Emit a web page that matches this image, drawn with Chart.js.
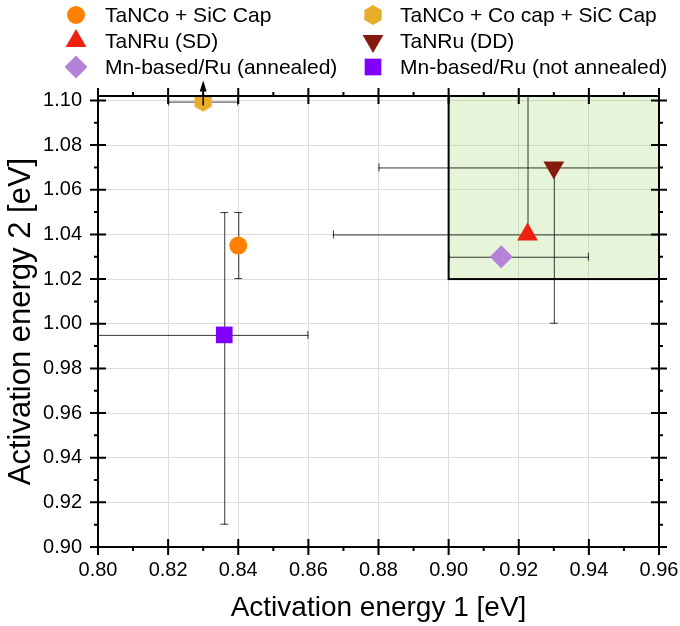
<!DOCTYPE html>
<html>
<head>
<meta charset="utf-8">
<script src="https://cdn.jsdelivr.net/npm/chart.js@4/dist/chart.umd.min.js"></script>
<style>
  html, body { margin: 0; padding: 0; background: #fff; }
  canvas { display: block; }
</style>
</head>
<body>
<canvas id="chart-ae" width="680" height="626"></canvas>
<script>
// data
var seriesLabels = [
  "TaNCo + SiC Cap",
  "TaNCo + Co cap + SiC Cap",
  "TaNRu (SD)",
  "TaNRu (DD)",
  "Mn-based/Ru (annealed)",
  "Mn-based/Ru (not annealed)",
];
var xValues = [0.84, 0.83, 0.9225, 0.93, 0.915, 0.836];
var yValues = [1.035, 1.0995, 1.04, 1.07, 1.03, 0.995];
var xErrMinus = [0, 0.01, 0.0555, 0.05, 0.015, 0.04];
var xErrPlus = [0, 0.01, 0.0555, 0.05, 0.025, 0.024];
var yErrMinus = [0.015, 0, 0, 0.07, 0, 0.085];
var yErrPlus = [0.015, 0, 0.07, 0, 0, 0.055];
var lowerLimit = [false, true, false, false, false, false];

var xTicks = [0.80, 0.82, 0.84, 0.86, 0.88, 0.90, 0.92, 0.94, 0.96];
var yTicks = [0.90, 0.92, 0.94, 0.96, 0.98, 1.00, 1.02, 1.04, 1.06, 1.08, 1.10];
var xRange = [0.80, 0.96];
var yRange = [0.90, 1.102];
var boxX = [0.90, 0.96];
var boxY = [1.02, 1.102];

// styles
var colors = ["#ff8000", "#e8ae2a", "#f0200f", "#851b0e", "#b482d6", "#8000ff"];
var FONT = "'Liberation Sans', Arial, sans-serif";

function hexagon(color, r) {
  var c = document.createElement("canvas");
  var s = Math.ceil(r * 2 + 2);
  c.width = s;
  c.height = s;
  var g = c.getContext("2d");
  g.fillStyle = color;
  g.beginPath();
  for (var i = 0; i < 6; i++) {
    var a = Math.PI / 2 + i * Math.PI / 3;
    var px = s / 2 + r * Math.cos(a);
    var py = s / 2 - r * Math.sin(a);
    if (i === 0) g.moveTo(px, py); else g.lineTo(px, py);
  }
  g.closePath();
  g.fill();
  return c;
}

var pointStyles = ["circle", hexagon(colors[1], 10), "triangle", "triangle", "rectRot", "rect"];
var pointRadius = [9, 10, 12, 12, 11.5, 11.8];
var pointRotation = [0, 0, 0, 180, 0, 0];

var datasets = seriesLabels.map(function (lab, i) {
  return {
    label: lab,
    data: [{ x: xValues[i], y: yValues[i] }],
    pointStyle: pointStyles[i],
    pointRadius: pointRadius[i],
    pointRotation: pointRotation[i],
    backgroundColor: colors[i],
    borderColor: colors[i],
    borderWidth: 0,
    clip: 0,
  };
});

// green box + error bars under the markers
var underlay = {
  id: "underlay",
  beforeDatasetsDraw: function (chart) {
    var ctx = chart.ctx, xs = chart.scales.x, ys = chart.scales.y, a = chart.chartArea;
    ctx.save();
    ctx.beginPath();
    ctx.rect(a.left, a.top, a.right - a.left, a.bottom - a.top);
    ctx.clip();

    var bx0 = xs.getPixelForValue(boxX[0]), bx1 = xs.getPixelForValue(boxX[1]);
    var by0 = ys.getPixelForValue(boxY[0]), by1 = ys.getPixelForValue(boxY[1]);
    ctx.fillStyle = "rgba(165, 215, 120, 0.28)";
    ctx.fillRect(bx0, by1, bx1 - bx0, by0 - by1);

    ctx.strokeStyle = "rgba(0,0,0,0.78)";
    ctx.lineWidth = 1;
    var cap = 4;
    for (var i = 0; i < xValues.length; i++) {
      var px = xs.getPixelForValue(xValues[i]);
      var py = ys.getPixelForValue(yValues[i]);
      ctx.beginPath();
      if (xErrMinus[i] || xErrPlus[i]) {
        var l = xs.getPixelForValue(xValues[i] - xErrMinus[i]);
        var r = xs.getPixelForValue(xValues[i] + xErrPlus[i]);
        ctx.moveTo(l, py + 0.5); ctx.lineTo(r, py + 0.5);
        ctx.moveTo(l + 0.5, py - cap); ctx.lineTo(l + 0.5, py + cap);
        ctx.moveTo(r - 0.5, py - cap); ctx.lineTo(r - 0.5, py + cap);
      }
      if (yErrMinus[i] || yErrPlus[i]) {
        var b = ys.getPixelForValue(yValues[i] - yErrMinus[i]);
        var t = ys.getPixelForValue(yValues[i] + yErrPlus[i]);
        ctx.moveTo(px + 0.5, b); ctx.lineTo(px + 0.5, t);
        if (yErrMinus[i]) { ctx.moveTo(px - cap, b - 0.5); ctx.lineTo(px + cap, b - 0.5); }
        if (yErrPlus[i]) { ctx.moveTo(px - cap, t + 0.5); ctx.lineTo(px + cap, t + 0.5); }
      }
      ctx.stroke();
    }

    ctx.strokeStyle = "#000";
    ctx.lineWidth = 2;
    ctx.strokeRect(bx0, by1, bx1 - bx0, by0 - by1);
    ctx.restore();
  },
};

// frame, ticks on four sides, limit arrow, legend
var overlay = {
  id: "overlay",
  afterDraw: function (chart) {
    var ctx = chart.ctx, xs = chart.scales.x, ys = chart.scales.y, a = chart.chartArea;
    ctx.save();
    ctx.strokeStyle = "#000";
    ctx.lineWidth = 2;
    ctx.strokeRect(a.left, a.top, a.right - a.left, a.bottom - a.top);

    var maj = 8, minr = 4;
    ctx.beginPath();
    xTicks.forEach(function (v, k) {
      var p = xs.getPixelForValue(v);
      ctx.moveTo(p, a.bottom - maj); ctx.lineTo(p, a.bottom + maj);
      ctx.moveTo(p, a.top - maj); ctx.lineTo(p, a.top + maj);
      if (k < xTicks.length - 1) {
        var m = xs.getPixelForValue((v + xTicks[k + 1]) / 2);
        ctx.moveTo(m, a.bottom); ctx.lineTo(m, a.bottom + minr);
        ctx.moveTo(m, a.top); ctx.lineTo(m, a.top - minr);
      }
    });
    yTicks.forEach(function (v, k) {
      var p = ys.getPixelForValue(v);
      ctx.moveTo(a.left - maj, p); ctx.lineTo(a.left + maj, p);
      ctx.moveTo(a.right - maj, p); ctx.lineTo(a.right + maj, p);
      if (k < yTicks.length - 1) {
        var m = ys.getPixelForValue((v + yTicks[k + 1]) / 2);
        ctx.moveTo(a.left, m); ctx.lineTo(a.left - minr, m);
        ctx.moveTo(a.right, m); ctx.lineTo(a.right + minr, m);
      }
    });
    ctx.stroke();

    // upward arrows for lower limits
    ctx.lineWidth = 1.5;
    ctx.fillStyle = "#000";
    for (var i = 0; i < xValues.length; i++) {
      if (!lowerLimit[i]) continue;
      var px = xs.getPixelForValue(xValues[i]);
      var py = ys.getPixelForValue(yValues[i]);
      ctx.beginPath();
      ctx.moveTo(px, py + 4); ctx.lineTo(px, py - 12);
      ctx.stroke();
      ctx.beginPath();
      ctx.moveTo(px, py - 21); ctx.lineTo(px - 3.5, py - 10); ctx.lineTo(px + 3.5, py - 10);
      ctx.closePath();
      ctx.fill();
    }

    // two-column legend
    ctx.font = "21px " + FONT;
    ctx.textBaseline = "middle";
    ctx.textAlign = "left";
    var colMark = [76, 373], colText = [105, 400], rows = [15, 41, 67];
    chart.data.datasets.forEach(function (ds, j) {
      var col = j % 2, row = Math.floor(j / 2);
      ctx.fillStyle = ds.backgroundColor;
      Chart.helpers.drawPoint(ctx, {
        pointStyle: ds.pointStyle,
        radius: ds.pointRadius,
        rotation: ds.pointRotation,
        borderWidth: 0,
      }, colMark[col], rows[row]);
      ctx.fillStyle = "#000";
      ctx.fillText(ds.label, colText[col], rows[row] + 1);
    });
    ctx.restore();
  },
};

var ctx = document.getElementById("chart-ae").getContext("2d");
var chartAe = new Chart(ctx, {
  type: "scatter",
  data: { datasets: datasets },
  plugins: [underlay, overlay],
  options: {
    responsive: false,
    animation: false,
    devicePixelRatio: 1,
    layout: { padding: { top: 96, right: 21, left: 0, bottom: 0 } },
    plugins: { legend: { display: false }, tooltip: { enabled: false } },
    scales: {
      x: {
        type: "linear",
        min: xRange[0],
        max: xRange[1],
        afterBuildTicks: function (s) { s.ticks = xTicks.map(function (v) { return { value: v }; }); },
        afterFit: function (s) { s.height = 79; s.paddingLeft = 0; s.paddingRight = 0; },
        grid: { color: "#dcdcdc", lineWidth: 1, drawTicks: false },
        border: { display: false },
        ticks: {
          padding: 11,
          color: "#000",
          font: { family: FONT, size: 20 },
          callback: function (v) { return Number(v).toFixed(2); },
        },
        title: {
          display: true,
          text: "Activation energy 1 [eV]",
          color: "#000",
          font: { family: FONT, size: 28 },
          padding: { top: 0, bottom: 1 },
        },
      },
      y: {
        type: "linear",
        min: yRange[0],
        max: yRange[1],
        afterBuildTicks: function (s) { s.ticks = yTicks.map(function (v) { return { value: v }; }); },
        afterFit: function (s) { s.width = 98; s.paddingTop = 0; s.paddingBottom = 0; },
        grid: { color: "#dcdcdc", lineWidth: 1, drawTicks: false },
        border: { display: false },
        ticks: {
          padding: 16,
          color: "#000",
          font: { family: FONT, size: 20 },
          callback: function (v) { return Number(v).toFixed(2); },
        },
        title: {
          display: true,
          text: "Activation energy 2 [eV]",
          color: "#000",
          font: { family: FONT, size: 31 },
          padding: { top: 3, bottom: 0 },
        },
      },
    },
  },
});
</script>
</body>
</html>
